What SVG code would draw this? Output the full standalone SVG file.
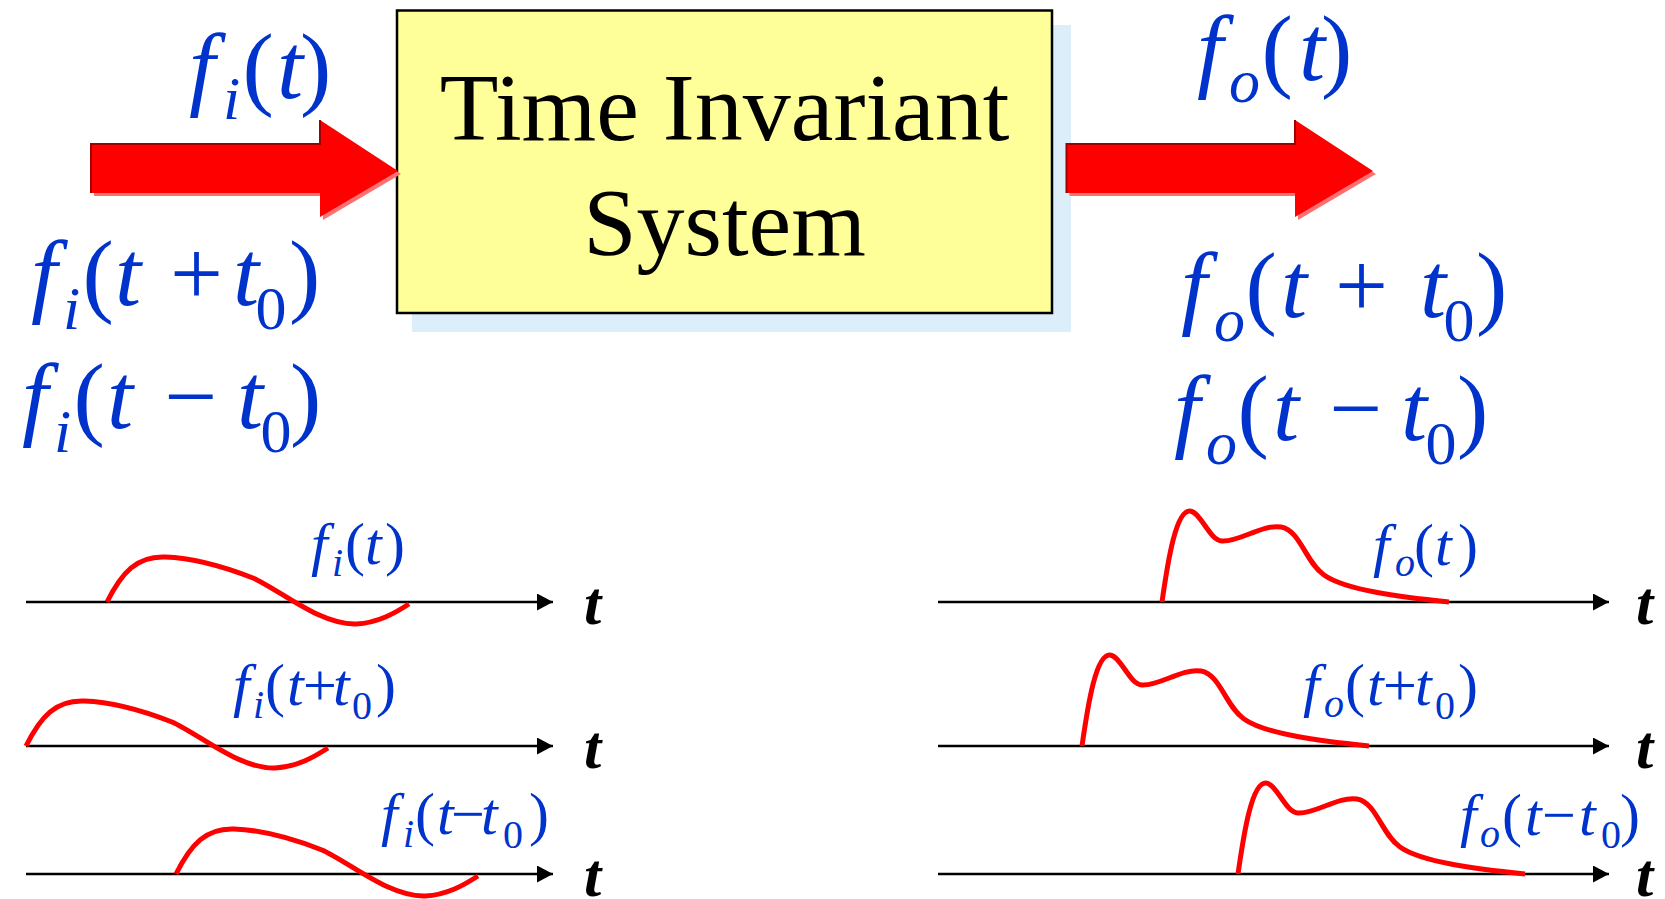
<svg xmlns="http://www.w3.org/2000/svg" width="1665" height="899" viewBox="0 0 1665 899">
<style>
.m{font-family:"Liberation Serif","Times New Roman",serif;fill:#0033cc}
.it{font-style:italic}
.big{font-size:94px}
.bs{font-size:62px}
.sm{font-size:60px}
.ss{font-size:40px}
.title{font-family:"Liberation Serif","Times New Roman",serif;font-size:96px;fill:#000;text-anchor:middle}
.ax{stroke:#000;stroke-width:2.5;fill:none}
.sig{stroke:#ff0000;stroke-width:5;fill:none}
.tl{font-family:"Liberation Serif","Times New Roman",serif;font-style:italic;font-weight:bold;font-size:62px;fill:#000}
.arr{fill:#ff0000}
.arrsh{fill:#ff7070}
.arred{fill:none;stroke:#a00000;stroke-width:2}
</style>
<defs>
<marker id="ah" markerUnits="userSpaceOnUse" markerWidth="16" markerHeight="17" refX="16" refY="8.5" orient="auto">
<path d="M0,0 L16,8.5 L0,17 z" fill="#000"/>
</marker>
<path id="inSig" d="M107,602 C122,572 137,556 165,557 C195,558 230,569 253,578 C280,590 320,625 356,624 C378,623 395,613 409,604"/>
<path id="outSig" d="M1162,602 C1168,560 1176,510 1190,511 C1201,512 1209,540 1222,541 C1240,542 1262,524 1281,527 C1300,530 1306,563 1324,575 C1345,590 1400,597 1449,602"/>
</defs>

<g id="system">
<rect x="412" y="25" width="659" height="307" fill="#dbeef9"/>
<rect x="397" y="10.5" width="655" height="302.5" fill="#ffff99" stroke="#000" stroke-width="2.5"/>
<text class="title" x="724.5" y="140">Time Invariant</text>
<text class="title" x="724.5" y="255">System</text>
</g>

<g id="connectors">
<g id="arrow-in">
<polygon class="arrsh" points="94,147 323,147 323,123 401,174 323,220 323,196 94,196"/>
<polygon class="arr" points="91,144 320,144 320,120 398,171 320,217 320,193 91,193"/>
<polyline class="arred" points="91,193 91,144 320,144 320,120"/>
</g>
<g id="arrow-out">
<polygon class="arrsh" points="1069.5,147 1298,147 1298,123 1376,174 1298,220 1298,196 1069.5,196"/>
<polygon class="arr" points="1066.5,144 1295,144 1295,120 1373,171 1295,217 1295,193 1066.5,193"/>
<polyline class="arred" points="1066.5,193 1066.5,144 1295,144 1295,120"/>
</g>
</g>

<g id="input-labels" class="m big">
<text><tspan class="it" x="189" y="98">f</tspan><tspan class="it bs" x="223" y="119">i</tspan><tspan x="242.5" y="98">(</tspan><tspan class="it" x="277" y="98">t</tspan><tspan x="300" y="98">)</tspan></text>
<text><tspan class="it" x="31" y="305">f</tspan><tspan class="it bs" x="63" y="329">i</tspan><tspan x="82.5" y="305">(</tspan><tspan class="it" x="115" y="305">t</tspan><tspan x="170" y="305">+</tspan><tspan class="it" x="233" y="305">t</tspan><tspan class="bs" x="255.5" y="329">0</tspan><tspan x="289" y="305">)</tspan></text>
<text><tspan class="it" x="22" y="428">f</tspan><tspan class="it bs" x="54" y="452">i</tspan><tspan x="73.5" y="428">(</tspan><tspan class="it" x="107" y="428">t</tspan><tspan x="164" y="428">−</tspan><tspan class="it" x="237" y="428">t</tspan><tspan class="bs" x="260.5" y="452">0</tspan><tspan x="290" y="428">)</tspan></text>
</g>

<g id="output-labels" class="m big">
<text><tspan class="it" x="1197" y="80">f</tspan><tspan class="it bs" x="1229" y="102">o</tspan><tspan x="1261.5" y="80">(</tspan><tspan class="it" x="1299" y="80">t</tspan><tspan x="1321" y="80">)</tspan></text>
<text><tspan class="it" x="1181" y="317">f</tspan><tspan class="it bs" x="1214" y="341">o</tspan><tspan x="1245.5" y="317">(</tspan><tspan class="it" x="1281" y="317">t</tspan><tspan x="1335" y="317">+</tspan><tspan class="it" x="1420" y="317">t</tspan><tspan class="bs" x="1443.5" y="341">0</tspan><tspan x="1476" y="317">)</tspan></text>
<text><tspan class="it" x="1174" y="440">f</tspan><tspan class="it bs" x="1206" y="464">o</tspan><tspan x="1237.5" y="440">(</tspan><tspan class="it" x="1273" y="440">t</tspan><tspan x="1329" y="440">−</tspan><tspan class="it" x="1401" y="440">t</tspan><tspan class="bs" x="1425.5" y="464">0</tspan><tspan x="1457" y="440">)</tspan></text>
</g>

<g id="input-plots">
<line class="ax" x1="26" y1="602" x2="553" y2="602" marker-end="url(#ah)"/>
<line class="ax" x1="26" y1="746" x2="553" y2="746" marker-end="url(#ah)"/>
<line class="ax" x1="26" y1="874" x2="553" y2="874" marker-end="url(#ah)"/>
<use href="#inSig" class="sig"/>
<use href="#inSig" class="sig" transform="translate(-81,144)"/>
<use href="#inSig" class="sig" transform="translate(69,272)"/>
<text class="tl" x="584" y="624">t</text>
<text class="tl" x="584" y="768">t</text>
<text class="tl" x="584" y="896">t</text>
<g class="m sm">
<text><tspan class="it" x="311" y="564">f</tspan><tspan class="it ss" x="332" y="576">i</tspan><tspan x="345" y="564">(</tspan><tspan class="it" x="365" y="564">t</tspan><tspan x="385" y="564">)</tspan></text>
<text><tspan class="it" x="233" y="705">f</tspan><tspan class="it ss" x="253" y="718">i</tspan><tspan x="265" y="705">(</tspan><tspan class="it" x="287" y="705">t</tspan><tspan x="303" y="705">+</tspan><tspan class="it" x="333" y="705">t</tspan><tspan class="ss" x="352" y="719">0</tspan><tspan x="376" y="705">)</tspan></text>
<text><tspan class="it" x="381" y="834">f</tspan><tspan class="it ss" x="403" y="847">i</tspan><tspan x="415" y="834">(</tspan><tspan class="it" x="437" y="834">t</tspan><tspan x="451" y="834">−</tspan><tspan class="it" x="481" y="834">t</tspan><tspan class="ss" x="503" y="848">0</tspan><tspan x="529" y="834">)</tspan></text>
</g>
</g>

<g id="output-plots">
<line class="ax" x1="938" y1="602" x2="1609" y2="602" marker-end="url(#ah)"/>
<line class="ax" x1="938" y1="746" x2="1609" y2="746" marker-end="url(#ah)"/>
<line class="ax" x1="938" y1="874" x2="1609" y2="874" marker-end="url(#ah)"/>
<use href="#outSig" class="sig"/>
<use href="#outSig" class="sig" transform="translate(-80,144)"/>
<use href="#outSig" class="sig" transform="translate(76,272)"/>
<text class="tl" x="1636" y="624">t</text>
<text class="tl" x="1636" y="768">t</text>
<text class="tl" x="1636" y="896">t</text>
<g class="m sm">
<text><tspan class="it" x="1373" y="565">f</tspan><tspan class="it ss" x="1395" y="576">o</tspan><tspan x="1414" y="565">(</tspan><tspan class="it" x="1435" y="565">t</tspan><tspan x="1458" y="565">)</tspan></text>
<text><tspan class="it" x="1303" y="705">f</tspan><tspan class="it ss" x="1324" y="717">o</tspan><tspan x="1345" y="705">(</tspan><tspan class="it" x="1367" y="705">t</tspan><tspan x="1383" y="705">+</tspan><tspan class="it" x="1415" y="705">t</tspan><tspan class="ss" x="1435" y="719">0</tspan><tspan x="1458" y="705">)</tspan></text>
<text><tspan class="it" x="1460" y="835">f</tspan><tspan class="it ss" x="1480" y="847">o</tspan><tspan x="1502" y="835">(</tspan><tspan class="it" x="1525" y="835">t</tspan><tspan x="1542" y="835">−</tspan><tspan class="it" x="1579" y="835">t</tspan><tspan class="ss" x="1601" y="848">0</tspan><tspan x="1620" y="835">)</tspan></text>
</g>
</g>
</svg>
